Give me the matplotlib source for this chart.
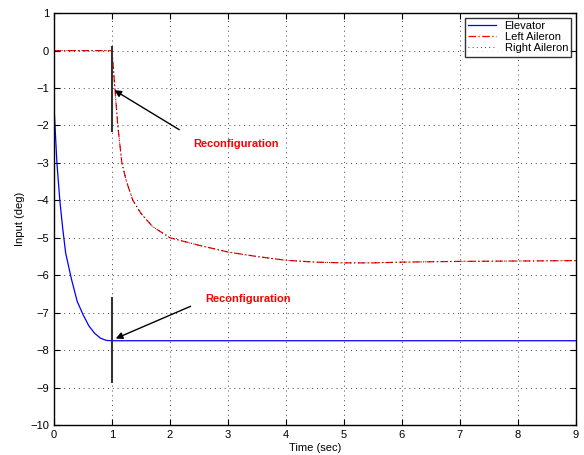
import matplotlib.pyplot as plt
import numpy as np

plt.rcParams['font.family'] = ['Liberation Sans', 'DejaVu Sans']

# Elevator (deg)
elev_t = [0.0, 0.05, 0.1, 0.15, 0.2, 0.3, 0.4, 0.5, 0.6, 0.7, 0.8, 0.9, 1.0, 9.0]
elev_u = [-1.5, -3.0, -4.0, -4.75, -5.4, -6.1, -6.7, -7.05, -7.35, -7.55, -7.68, -7.74, -7.75, -7.75]

# Left / right aileron (deg), both curves lie on top of each other
ail_t = [0.0, 1.0, 1.02, 1.05, 1.1, 1.17, 1.25, 1.36, 1.5, 1.7, 2.0, 2.5, 3.0, 3.5, 4.0, 4.5,
         5.0, 5.5, 6.0, 7.0, 8.0, 9.0]
ail_u = [0.0, 0.0, -0.4, -1.0, -2.0, -3.0, -3.5, -4.0, -4.35, -4.7, -5.0, -5.2, -5.38, -5.5,
         -5.6, -5.65, -5.67, -5.67, -5.65, -5.63, -5.62, -5.61]

fig = plt.figure(figsize=(5.84, 4.55), dpi=100)
ax = fig.add_axes([0.0925, 0.066, 0.8935, 0.905])

ax.plot(elev_t, elev_u, color='blue', linewidth=0.9, label='Elevator')
ax.plot(ail_t, ail_u, color='red', linestyle=(0, (6, 2, 1, 2)), linewidth=0.9, label='Left Aileron')
ax.plot(ail_t, ail_u, color='black', linestyle=(0, (1, 4)), linewidth=0.6, label='Right Aileron')

# reconfiguration markers
ax.plot([1, 1], [0.1, -2.15], color='#333333', linewidth=1.5)
ax.plot([1, 1], [-6.6, -8.85], color='#333333', linewidth=1.5)

ax.annotate('', xy=(1.0, -1.02), xytext=(2.2, -2.15),
            arrowprops=dict(arrowstyle='-|>', color='black', lw=1.0, mutation_scale=10))
ax.text(3.14, -2.5, 'Reconfiguration', color='red', fontweight='bold', fontsize=8,
        ha='center', va='center')
ax.annotate('', xy=(1.02, -7.72), xytext=(2.4, -6.8),
            arrowprops=dict(arrowstyle='-|>', color='black', lw=1.0, mutation_scale=10))
ax.text(3.34, -6.64, 'Reconfiguration', color='red', fontweight='bold', fontsize=8,
        ha='center', va='center')

ax.set_xlim(0, 9)
ax.set_ylim(-10, 1)
ax.set_xticks(range(0, 10))
ax.set_yticks(range(-10, 2))
ax.tick_params(direction='in', top=True, right=True, labelsize=8, length=4)
ax.grid(True, color='#444444', linestyle=(0, (1, 4)), linewidth=0.7)
for s in ax.spines.values():
    s.set_linewidth(1.0)

ax.set_xlabel('Time (sec)', fontsize=8, labelpad=2)
ax.set_ylabel('Input (deg)', fontsize=8, labelpad=4)

leg = ax.legend(loc='upper right', fontsize=8, fancybox=False, edgecolor='black',
                borderaxespad=0.4, handlelength=2.5, labelspacing=0.1, borderpad=0.3)
leg.get_frame().set_linewidth(1.0)

fig.savefig('out.png', dpi=100)
